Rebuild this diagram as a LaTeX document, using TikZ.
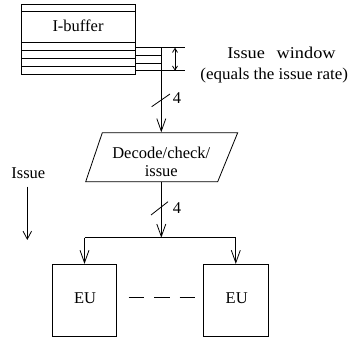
\documentclass[tikz,border=0pt]{standalone}
\usepackage{fontspec}
\setmainfont{Liberation Serif}
\usetikzlibrary{arrows.meta}
\begin{document}
\begin{tikzpicture}[x=1pt,y=-1pt, line width=0.8pt,
  txt/.style={font=\fontsize{16.5}{18.5}\selectfont, inner sep=0pt, anchor=base},
  box/.style={draw, inner sep=0pt},
  arr/.style={-{Straight Barb[length=12.5pt,width=9pt]}},
  dbl/.style={{Straight Barb[length=4pt,width=5pt]}-{Straight Barb[length=4pt,width=5pt]}},
  issuearr/.style={-{Straight Barb[length=8pt,width=8.5pt]}},
  dots/.style={dash pattern=on 15.7pt off 9.8pt}
]
\useasboundingbox (0,0) rectangle (348,339);

% I-buffer
\node[box, minimum width=114pt, minimum height=70.3pt] (buf) at (78,39.15) {};
\foreach \yy in {11.3,42.3,50,58,66.3} \draw (21,\yy) -- (135,\yy);
\node[txt] (buftxt) at (78,31.7) {I-buffer};

% issue window lines
\draw (135,47.7) -- (185,47.7);
\draw (135,55.7) -- (161.3,55.7);
\draw (135,63.7) -- (161.3,63.7);
\draw (135,70.7) -- (185,70.7);
\coordinate (wtop) at (175,47.7);
\coordinate (wbot) at (175,70.7);
\draw[dbl] (wtop) -- (wbot);
\coordinate (w1) at (161.3,47.7);

\node[txt] (iw1) at (281.5,58.3) {\scalebox{1.11}[1]{Issue}\hspace{11.7pt}\scalebox{1.11}[1]{window}};
\node[txt, anchor=base west] (iw2) at (200,79.3) {\scalebox{1.03}[1]{(equals the issue rate)}};

% decode
\draw (102.3,132.7) -- (237.7,132.7) -- (217.7,181.7) -- (85.7,181.7) -- cycle;
\node[minimum width=100pt, minimum height=49pt, inner sep=0pt] (dec) at (161.3,157.2) {};
\node[txt] (dect1) at (161.3,158.3) {Decode/check/};
\node[txt] (dect2) at (161.3,176.7) {issue};

\draw[arr] (w1) -- (dec.north);
\draw (151.7,106.7) -- (170,94);
\node[txt] (n4a) at (177,103.3) {4};

\coordinate (jn) at (161.3,237.7);
\draw[arr] (dec.south) -- (jn);
\draw (151,215) -- (168,201.7);
\node[txt] (n4b) at (177,213.3) {4};

% EUs
\node[box, minimum width=64.4pt, minimum height=72.4pt] (eu1) at (84.5,300.5) {};
\node[box, minimum width=65pt, minimum height=72.4pt] (eu2) at (235.8,300.5) {};
\node[txt] (eu1t) at (85,303.3) {EU};
\node[txt] (eu2t) at (236.7,303.3) {EU};
\draw (eu1.north |- jn) -- (eu2.north |- jn);
\draw[arr] (eu1.north |- jn) -- (eu1.north);
\draw[arr] (eu2.north |- jn) -- (eu2.north);
\draw[dots] ([shift={(11.6,-3.2)}]eu1.east) -- ([shift={(-8.3,-3.2)}]eu2.west);

% Issue
\node[txt] (iss) at (28.3,178.3) {Issue};
\coordinate (is1) at (27.3,186.7);
\coordinate (is2) at (27.3,240);
\draw[issuearr] (is1) -- (is2);
\end{tikzpicture}
\end{document}
